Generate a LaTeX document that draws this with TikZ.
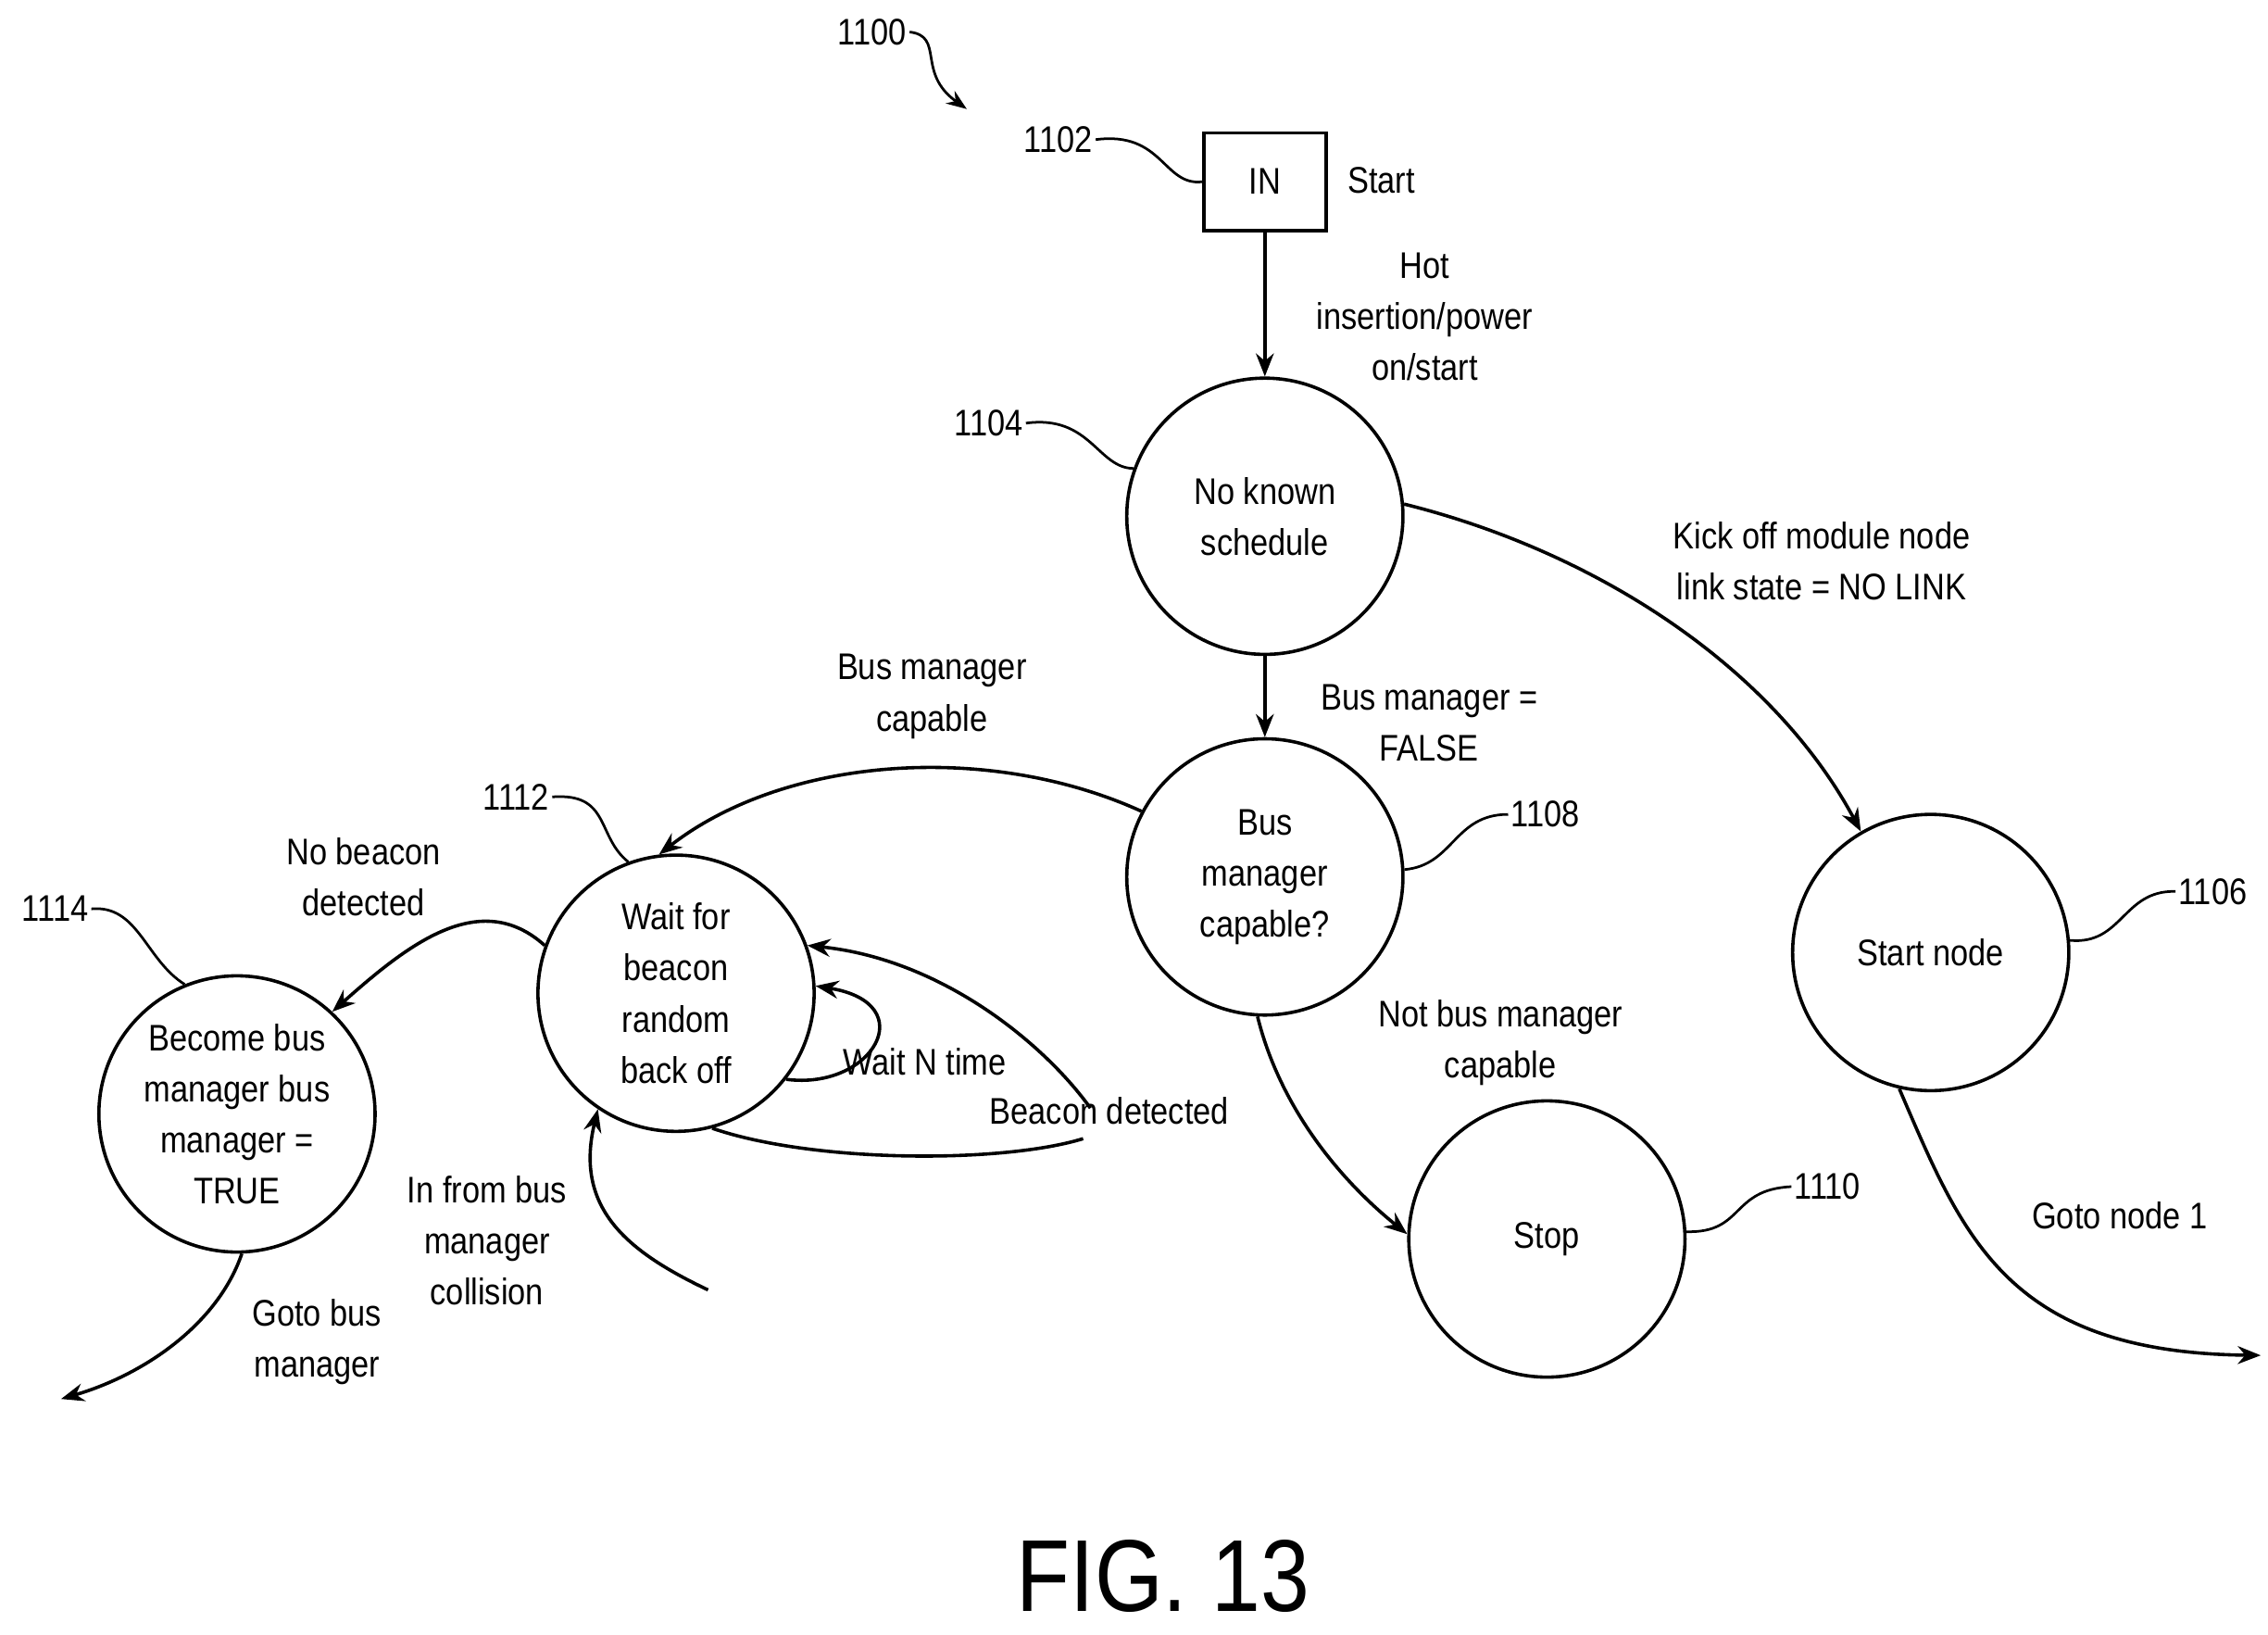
\documentclass[tikz,border=0pt]{standalone}
\usepackage{fontspec}
\setmainfont{Liberation Sans}[FakeStretch=0.86]
\usetikzlibrary{arrows.meta}
\begin{document}
\begin{tikzpicture}[x=0.02cm,y=-0.02cm,
  every node/.style={font=\fontsize{14.5}{20}\selectfont},
  st/.style={circle,draw,line width=1.3pt,minimum size=3.8cm,inner sep=0pt,align=center},
  lbl/.style={align=center,inner sep=1pt},
  ar/.style={line width=1.3pt,-{Stealth[length=9pt,width=7pt]}},
  sq/.style={line width=1pt}]
\useasboundingbox (0,0) rectangle (1560,1124);
\node[draw,line width=1.3pt,minimum width=1.68cm,minimum height=1.34cm] (in) at (870,125) {IN};
\node[lbl] (start) at (950,124) {Start};
\node[st] (nks) at (870,355) {No known\\schedule};
\node[st] (bmc) at (870,603) {Bus\\manager\\capable?};
\node[st] (sn) at (1328,655) {Start node};
\node[st] (stop) at (1064,852) {Stop};
\node[st] (wait) at (465,683) {Wait for\\beacon\\random\\back off};
\node[st] (bec) at (163,766) {Become bus\\manager bus\\manager =\\TRUE};
% ref labels
\node[lbl] (r1100) at (600,22) {1100};
\node[lbl] (r1102) at (728,96) {1102};
\node[lbl] (r1104) at (680,291) {1104};
\node[lbl] (r1108) at (1063,560) {1108};
\node[lbl] (r1106) at (1522,613) {1106};
\node[lbl] (r1110) at (1257,816) {1110};
\node[lbl] (r1112) at (355,548) {1112};
\node[lbl] (r1114) at (38,625) {1114};
\coordinate (a1100) at (665,75);
\draw[sq,-{Stealth[length=8pt,width=6pt]}] (r1100.east) .. controls (650,25) and (630,50) .. (a1100);
\draw[sq] (r1102.east) .. controls (800,90) and (800,128) .. (in.west);
\draw[sq] (r1104.east) .. controls (750,285) and (755,322) .. (nks.160);
\draw[sq] (bmc.3) .. controls (1000,595) and (1000,560) .. (r1108.west);
\draw[sq] (sn.5) .. controls (1460,650) and (1460,612) .. (r1106.west);
\draw[sq] (stop.3) .. controls (1200,848) and (1190,818) .. (r1110.west);
\draw[sq] (r1112.east) .. controls (420,545) and (410,575) .. (wait.110);
\draw[sq] (r1114.east) .. controls (95,622) and (100,660) .. (bec.112);
% edges
\draw[ar] (in) -- (nks);
\node[lbl] at (980,218) {Hot\\insertion/power\\on/start};
\draw[ar] (nks) -- (bmc);
\node[lbl] at (983,497) {Bus manager =\\FALSE};
\draw[ar] (nks.5) .. controls (1100,380) and (1220,460) .. (sn.120);
\node[lbl] at (1253,386) {Kick off module node\\link state = NO LINK};
\draw[ar] (bmc.267) .. controls (880,760) and (920,810) .. (stop.178);
\node[lbl] at (1032,717) {Not bus manager\\capable};
\draw[ar] (bmc.152) .. controls (680,510) and (540,520) .. (wait.97);
\node[lbl] at (641,479) {Bus manager\\capable};
\draw[ar] (wait.160) .. controls (330,610) and (280,650) .. (bec.47);
\node[lbl] at (250,603) {No beacon\\detected};
\draw[ar] (wait.322) .. controls (600,750) and (635,690) .. (wait.3);
\node[lbl] at (636,730) {Wait N time};
\coordinate (bd1) at (745,783);
\coordinate (bd2) at (750,762);
\draw[line width=1.3pt] (wait.285) .. controls (560,800) and (690,800) .. (bd1);
\draw[ar] (bd2) .. controls (720,720) and (650,660) .. (wait.20);
\node[lbl] at (763,764) {Beacon detected};
\coordinate (col) at (487,887);
\draw[ar] (col) .. controls (430,860) and (395,830) .. (wait.236);
\node[lbl] at (335,853) {In from bus\\manager\\collision};
\coordinate (gbm) at (42,962);
\draw[ar] (bec.272) .. controls (150,910) and (100,945) .. (gbm);
\node[lbl] at (218,923) {Goto bus\\manager};
\coordinate (gn) at (1555,932);
\draw[ar] (sn.257) .. controls (1350,850) and (1380,930) .. (gn);
\node[lbl] at (1458,836) {Goto node 1};
\node[font=\fontsize{40}{46}\selectfont] (fig) at (800,1084) {FIG. 13};
\end{tikzpicture}
\end{document}
